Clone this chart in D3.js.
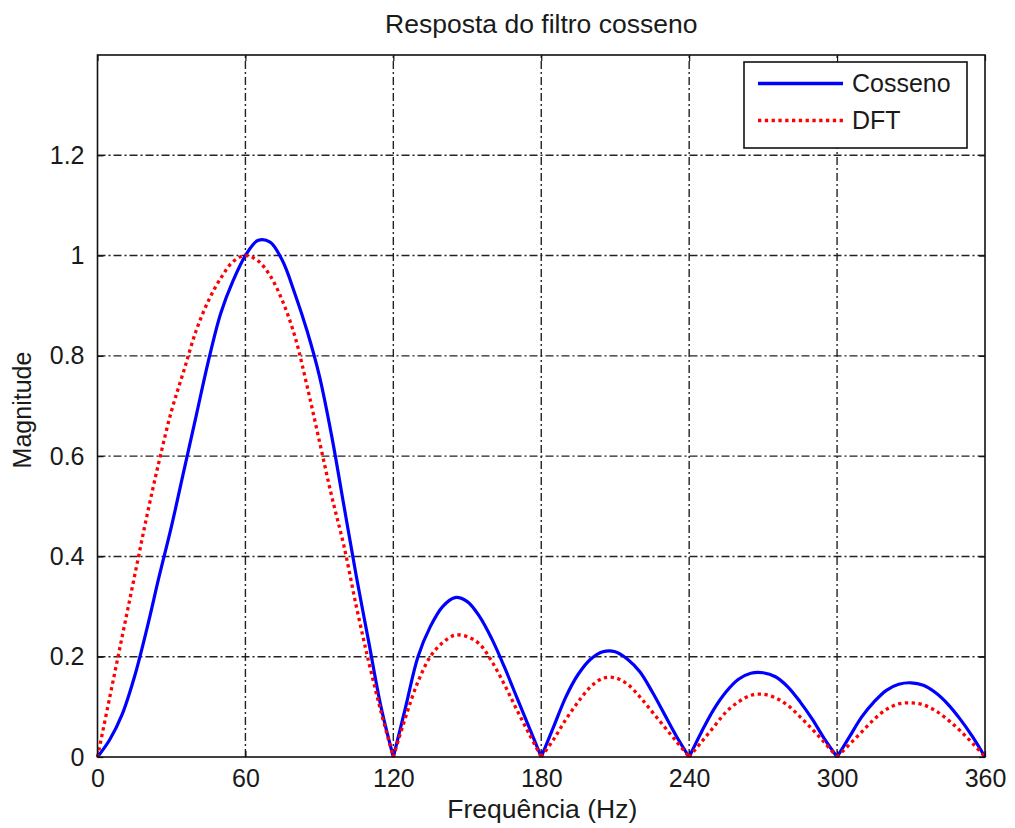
<!DOCTYPE html>
<html>
<head>
<meta charset="utf-8">
<script src="https://cdn.jsdelivr.net/npm/d3@7"></script>
<style>
  html, body { margin: 0; padding: 0; background: #fff; }
  svg { display: block; font-family: "Liberation Sans", Arial, sans-serif; }
</style>
</head>
<body>
<svg id="chart" width="1015" height="828"></svg>
<script>
// ---- data ----
const freqs = [0,5,10,15,20,25,30,35,40,45,50,55,60,65,70,75,80,85,90,95,100,105,110,115,120,
  125,130,135,140,145,150,155,160,165,170,175,180,185,190,195,200,205,210,215,220,225,230,235,240,
  245,250,255,260,265,270,275,280,285,290,295,300,305,310,315,320,325,330,335,340,345,350,355,360];
const cossenoValues = [0,0.035,0.085,0.16,0.255,0.36,0.46,0.57,0.68,0.79,0.885,0.95,1.0,1.03,1.027,0.99,0.925,0.85,0.76,0.64,0.50,0.36,0.23,0.10,0,
  0.10,0.20,0.26,0.30,0.318,0.31,0.28,0.235,0.18,0.12,0.06,0,
  0.06,0.12,0.165,0.195,0.21,0.21,0.195,0.17,0.13,0.085,0.04,0,
  0.05,0.095,0.13,0.155,0.167,0.168,0.16,0.14,0.11,0.075,0.035,0,
  0.04,0.08,0.11,0.133,0.145,0.148,0.143,0.128,0.105,0.075,0.04,0];
const dftValues = [0,0.12,0.24,0.36,0.48,0.59,0.69,0.77,0.85,0.91,0.955,0.988,1.0,0.99,0.96,0.91,0.84,0.74,0.63,0.52,0.42,0.30,0.19,0.09,0,
  0.08,0.15,0.20,0.228,0.243,0.24,0.225,0.19,0.145,0.095,0.047,0,
  0.035,0.075,0.11,0.14,0.157,0.158,0.145,0.12,0.09,0.06,0.03,0,
  0.03,0.06,0.09,0.11,0.123,0.125,0.118,0.103,0.08,0.055,0.028,0,
  0.025,0.05,0.075,0.095,0.106,0.108,0.104,0.092,0.074,0.052,0.027,0];
const xTicks = [0,60,120,180,240,300,360];
const yTicks = [0,0.2,0.4,0.6,0.8,1,1.2];
const yTickLabels = ["0","0.2","0.4","0.6","0.8","1","1.2"];
const seriesNames = ["Cosseno","DFT"];
const titleText = "Resposta do filtro cosseno";
const xLabel = "Frequência (Hz)";
const yLabel = "Magnitude";

// ---- layout ----
const L = 97.5, R = 985, T = 55, B = 757;
const svg = d3.select("#chart");
const x = d3.scaleLinear().domain([0,360]).range([L,R]);
const y = d3.scaleLinear().domain([0,1.4]).range([B,T]);
const textColor = "#1a1a1a";
const fs = 25;

// grid
const grid = svg.append("g").attr("stroke","#222").attr("stroke-width",1.4)
  .attr("stroke-dasharray","8,3,2,3").attr("fill","none");
grid.selectAll("line.gx").data(xTicks.filter(d => d>0 && d<360)).enter().append("line")
  .attr("x1",d=>x(d)).attr("x2",d=>x(d)).attr("y1",B).attr("y2",T);
grid.selectAll("line.gy").data(yTicks.filter(d => d>0)).enter().append("line")
  .attr("y1",d=>y(d)).attr("y2",d=>y(d)).attr("x1",L).attr("x2",R);

// axes (ticks inward)
const tickLen = 6;
const axB = svg.append("g").attr("transform",`translate(0,${B})`)
  .call(d3.axisBottom(x).tickValues(xTicks).tickSizeInner(-tickLen).tickSizeOuter(0).tickPadding(12));
const axT = svg.append("g").attr("transform",`translate(0,${T})`)
  .call(d3.axisTop(x).tickValues(xTicks).tickSizeInner(-tickLen).tickSizeOuter(0).tickFormat(""));
const axL = svg.append("g").attr("transform",`translate(${L},0)`)
  .call(d3.axisLeft(y).tickValues(yTicks).tickSizeInner(-tickLen).tickSizeOuter(0).tickPadding(13)
    .tickFormat((d,i)=>yTickLabels[i]));
const axR = svg.append("g").attr("transform",`translate(${R},0)`)
  .call(d3.axisRight(y).tickValues(yTicks).tickSizeInner(-tickLen).tickSizeOuter(0).tickFormat(""));
[axB,axT,axL,axR].forEach(a=>{
  a.select(".domain").remove();
  a.selectAll(".tick line").attr("stroke","#111").attr("stroke-width",1.2);
  a.selectAll("text").attr("font-size",fs).attr("fill",textColor)
    .attr("font-family","'Liberation Sans', Arial, sans-serif");
});
axB.selectAll("text").attr("dy","0.71em").attr("y",12);

// lines: each lobe (between zeros) is drawn as its own smooth sub-path so the zeros stay sharp
const lobeCurve = d3.line().x(d=>x(d[0])).y(d=>y(d[1])).curve(d3.curveCatmullRom.alpha(0.5));
function lobePath(values){
  const pts = freqs.map((f,i)=>[f,values[i]]);
  const zeroIdx = [];
  pts.forEach((p,i)=>{ if (p[1]===0) zeroIdx.push(i); });
  let d = "";
  for (let k=0;k<zeroIdx.length-1;k++){
    d += lobeCurve(pts.slice(zeroIdx[k], zeroIdx[k+1]+1));
  }
  return d;
}
svg.append("path").attr("d",lobePath(cossenoValues))
  .attr("fill","none").attr("stroke","#0000ff").attr("stroke-width",3.2).attr("stroke-linejoin","round");
svg.append("path").attr("d",lobePath(dftValues))
  .attr("fill","none").attr("stroke","#ff0000").attr("stroke-width",3.3).attr("stroke-dasharray","3.3,3.5");

// plot box
svg.append("rect").attr("x",L).attr("y",T).attr("width",R-L).attr("height",B-T)
  .attr("fill","none").attr("stroke","#111").attr("stroke-width",1.6);

// legend
const lg = svg.append("g");
lg.append("rect").attr("x",744).attr("y",62).attr("width",223).attr("height",86)
  .attr("fill","#fff").attr("stroke","#111").attr("stroke-width",1.6);
const legendStyles = [
  {color:"#0000ff", dash:null, w:3.6},
  {color:"#ff0000", dash:"3.3,3.5", w:3.6}
];
seriesNames.forEach((name,i)=>{
  const ly = 83.5 + i*37;
  const ln = lg.append("line").attr("x1",758).attr("x2",843).attr("y1",ly).attr("y2",ly)
    .attr("stroke",legendStyles[i].color).attr("stroke-width",legendStyles[i].w);
  if (legendStyles[i].dash) ln.attr("stroke-dasharray",legendStyles[i].dash);
  lg.append("text").attr("x",852).attr("y",ly).attr("dy","0.35em")
    .attr("font-size",fs).attr("fill",textColor).text(name);
});

// title & labels
svg.append("text").attr("x",(L+R)/2).attr("y",33).attr("text-anchor","middle")
  .attr("font-size",26.5).attr("fill",textColor).text(titleText);
svg.append("text").attr("x",(L+R)/2 + 1).attr("y",818).attr("text-anchor","middle")
  .attr("font-size",26.5).attr("fill",textColor).text(xLabel);
svg.append("text").attr("transform",`translate(31,${(T+B)/2 + 4}) rotate(-90)`).attr("text-anchor","middle")
  .attr("font-size",fs).attr("fill",textColor).text(yLabel);
</script>
</body>
</html>
